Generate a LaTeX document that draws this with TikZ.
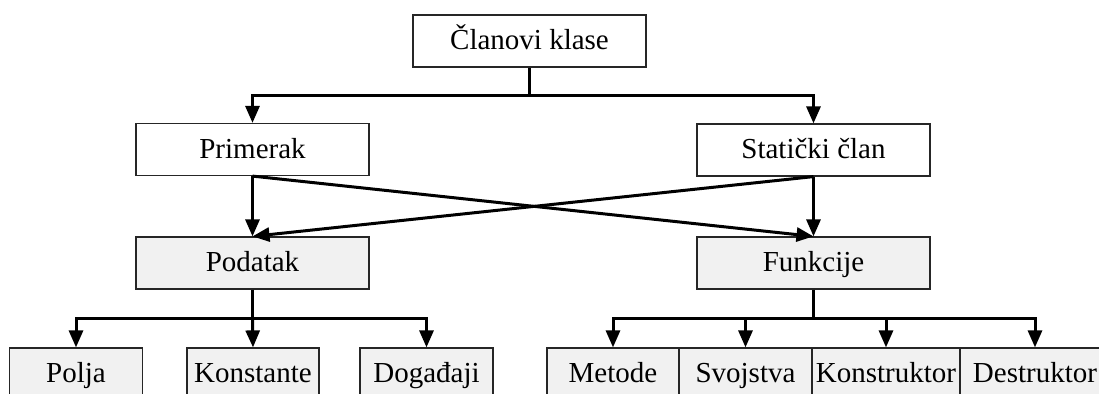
\documentclass[tikz,border=0pt]{standalone}
\usepackage{fontspec}
\setmainfont{Liberation Serif}
\usetikzlibrary{arrows.meta,calc}
\definecolor{boxgray}{HTML}{F1F1F1}
\tikzset{
  box/.style={draw=black!85, line width=0.6pt, rectangle, inner sep=0pt,
    font=\fontsize{14.5pt}{17pt}\selectfont, text height=11pt, text depth=2pt,
    minimum height=26pt},
  wbox/.style={box, fill=white},
  gbox/.style={box, fill=boxgray},
  arr/.style={line width=1.5pt, -{Triangle[length=8.5pt,width=7pt]}},
  ln/.style={line width=1.5pt}
}
\begin{document}
\begin{tikzpicture}[x=0.5pt,y=-0.5pt]
\useasboundingbox (0,0) rectangle (1099,394);
\clip (0,0) rectangle (1099,394);
\fill[white] (0,0) rectangle (1099,394);
% nodes
\node[wbox, minimum width=116.5pt] (top) at (529.5,41) {Članovi klase};
\node[wbox, minimum width=116.5pt] (prim) at (252.5,149.5) {Primerak};
\node[wbox, minimum width=116.5pt] (stat) at (813.5,150) {Statički član};
\node[gbox, minimum width=116.5pt] (pod) at (252.5,263) {Podatak};
\node[gbox, minimum width=116.5pt] (fun) at (813.5,263) {Funkcije};
\node[gbox, minimum width=66.5pt] (polja) at (76,374) {Polja};
\node[gbox, minimum width=66pt] (konst) at (253,374) {Konstante};
\node[gbox, minimum width=66.5pt] (dog) at (426.5,374) {Događaji};
\node[gbox, minimum width=66pt] (met) at (613,374) {Metode};
\node[gbox, minimum width=66.5pt] (svo) at (745.5,374) {Svojstva};
\node[gbox, minimum width=74pt] (kon) at (886,374) {Konstruktor};
\node[gbox, minimum width=75pt] (des) at (1035,374) {Destruktor};
% connectors
\coordinate (tm) at ($(top.south)!0.5!(top.south |- prim.north)$);
\draw[ln] (top.south) -- (tm);
\draw[arr] (tm) -| (prim.north);
\draw[arr] (tm) -| (stat.north);
\draw[arr] (prim.south) -- (pod.north);
\draw[arr] (stat.south) -- (fun.north);
\draw[arr] (prim.south) -- (fun.north);
\draw[arr] (stat.south) -- (pod.north);
\coordinate (pm) at ($(pod.south)!0.5!(pod.south |- polja.north)$);
\draw[ln] (pod.south) -- (pm);
\draw[arr] (pm) -| (polja.north);
\draw[arr] (pm) -- (konst.north);
\draw[arr] (pm) -| (dog.north);
\coordinate (fm) at ($(fun.south)!0.5!(fun.south |- met.north)$);
\draw[ln] (fun.south) -- (fm);
\draw[arr] (fm) -| (met.north);
\draw[arr] (fm) -| (svo.north);
\draw[arr] (fm) -| (kon.north);
\draw[arr] (fm) -| (des.north);
\end{tikzpicture}
\end{document}
